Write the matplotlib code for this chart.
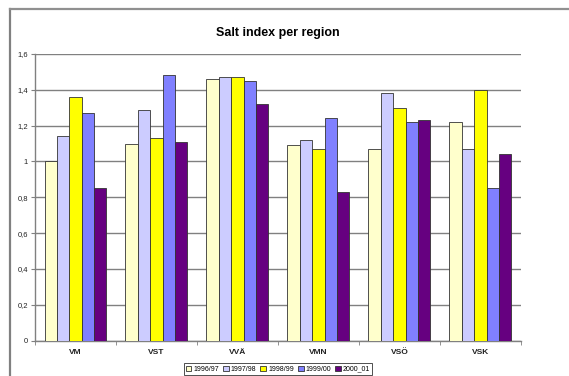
import matplotlib
matplotlib.use("Agg")
import matplotlib.pyplot as plt
from matplotlib.lines import Line2D
import numpy as np

plt.rcParams["font.family"] = ["Liberation Sans", "DejaVu Sans"]

# Data
regions = ["VM", "VST", "VVÄ", "VMN", "VSÖ", "VSK"]
seasons = ["1996/97", "1997/98", "1998/99", "1999/00", "2000_01"]
idx_1996 = [1.00, 1.10, 1.46, 1.09, 1.07, 1.22]
idx_1997 = [1.14, 1.29, 1.47, 1.12, 1.38, 1.07]
idx_1998 = [1.36, 1.13, 1.47, 1.07, 1.30, 1.40]
idx_1999 = [1.27, 1.48, 1.45, 1.24, 1.22, 0.85]
idx_2000 = [0.85, 1.11, 1.32, 0.83, 1.23, 1.04]
y_ticks = [0, 0.2, 0.4, 0.6, 0.8, 1.0, 1.2, 1.4, 1.6]
y_tick_labels = ["0", "0,2", "0,4", "0,6", "0,8", "1", "1,2", "1,4", "1,6"]

series = [idx_1996, idx_1997, idx_1998, idx_1999, idx_2000]
colors = ["#FFFFCC", "#CCCCFF", "#FFFF00", "#8080FF", "#660080"]

fig = plt.figure(figsize=(5.69, 3.76), dpi=100)
ax = fig.add_axes([0.0615, 0.0944, 0.854, 0.762])

x = np.arange(len(regions))
bar_w = 0.153
for i, (vals, col) in enumerate(zip(series, colors)):
    ax.bar(x + (i - 2) * bar_w, vals, width=bar_w, color=col,
           edgecolor="#333333", linewidth=0.6, label=seasons[i], zorder=3)

ax.set_xlim(-0.5, len(regions) - 0.5)
ax.set_ylim(0, 1.6)
ax.set_yticks(y_ticks)
ax.set_yticklabels(y_tick_labels, fontsize=5.5, color="#222222")
ax.yaxis.grid(True, color="#808080", linewidth=1.0, zorder=0)

# category labels between tick marks, like Excel
ax.set_xticks(x)
ax.set_xticklabels(regions, fontsize=6, fontweight="bold", color="#222222")
ax.tick_params(axis="x", length=0, pad=6)
ax.set_xticks(np.arange(len(regions) + 1) - 0.5, minor=True)
ax.tick_params(axis="x", which="minor", length=3, color="#808080")
ax.tick_params(axis="y", length=3, color="#808080", pad=2)

for side in ["top", "right"]:
    ax.spines[side].set_visible(False)
for side in ["left", "bottom"]:
    ax.spines[side].set_color("#808080")
    ax.spines[side].set_linewidth(1.0)

ax.set_title("Salt index per region", fontsize=9, fontweight="bold", pad=13)

leg = ax.legend(loc="upper center", bbox_to_anchor=(0.5, -0.08), ncol=5,
                fontsize=5, frameon=True, fancybox=False, edgecolor="black",
                handlelength=0.8, handleheight=0.8, handletextpad=0.3,
                columnspacing=0.6, borderpad=0.3, borderaxespad=0)
leg.get_frame().set_linewidth(0.6)

# partial outer chart frame (left and top edges)
fx = 10 / 569
fy = 1 - 9 / 376
fig.add_artist(Line2D([fx, fx], [0, fy], transform=fig.transFigure,
                      color="#808080", linewidth=1.6))
fig.add_artist(Line2D([fx, 1], [fy, fy], transform=fig.transFigure,
                      color="#909090", linewidth=1.6))

fig.savefig("out.png", dpi=100)
